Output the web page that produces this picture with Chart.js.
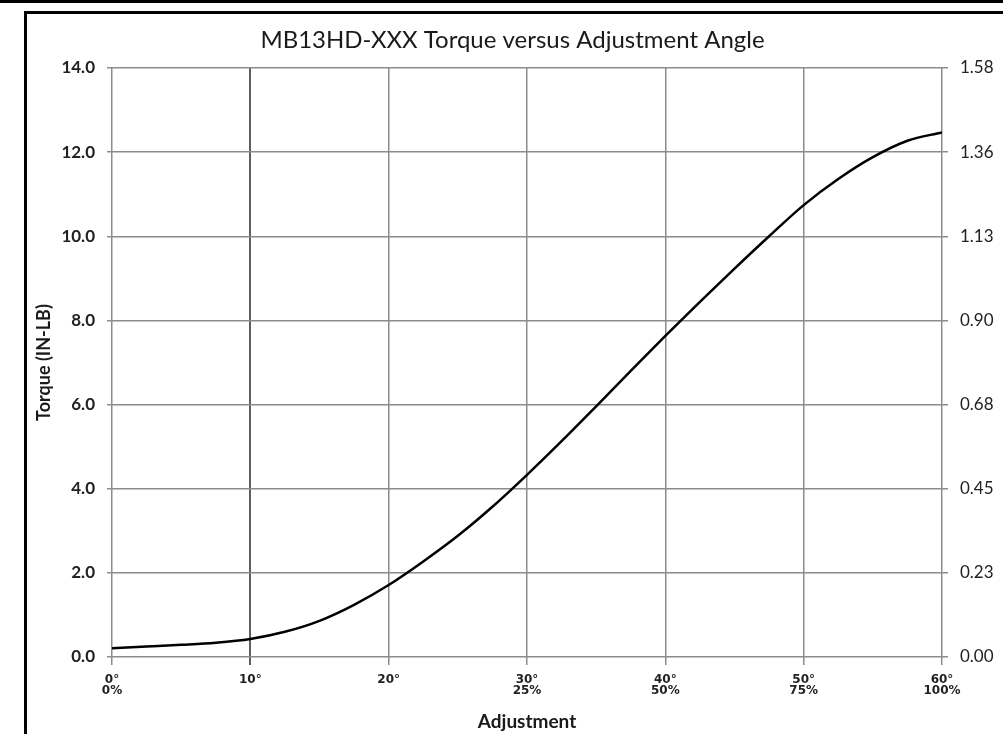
<!DOCTYPE html>
<html>
<head>
<meta charset="utf-8">
<script src="https://cdn.jsdelivr.net/npm/chart.js@4.4.0/dist/chart.umd.min.js"></script>
<style>
  html, body { margin: 0; padding: 0; background: #fff; }
</style>
</head>
<body>
<canvas id="chart" width="1003" height="734"></canvas>
<script>
// adjustment angle (degrees) and torque (in-lb)
const angles = [0, 2.5, 5, 7.5, 10, 12.5, 15, 17.5, 20, 22.5, 25, 27.5, 30,
  32.5, 35, 37.5, 40, 42.5, 45, 47.5, 50, 52.5, 55, 57.5, 60];
const torque = [0.21, 0.25, 0.29, 0.34, 0.43, 0.60, 0.86, 1.24, 1.71, 2.27, 2.88, 3.57, 4.33,
  5.13, 5.96, 6.80, 7.63, 8.44, 9.23, 10.00, 10.74, 11.36, 11.88, 12.27, 12.47];

const xTickLabels = [["0°", "0%"], ["10°"], ["20°"], ["30°", "25%"], ["40°", "50%"], ["50°", "75%"], ["60°", "100%"]];
const leftTickLabels = ["0.0", "2.0", "4.0", "6.0", "8.0", "10.0", "12.0", "14.0"];
const rightTickLabels = ["0.00", "0.23", "0.45", "0.68", "0.90", "1.13", "1.36", "1.58"];

const gridGray = "#8c8c8c";

// black frame round the picture
const framePlugin = {
  id: "frame",
  beforeDraw(chart) {
    const c = chart.ctx;
    c.save();
    c.fillStyle = "#fff";
    c.fillRect(0, 0, chart.width, chart.height);
    c.fillStyle = "#000";
    c.fillRect(0, 0, chart.width, 3);
    c.fillRect(24, 11, chart.width - 24, 3);
    c.fillRect(24, 11, 3, chart.height - 11);
    c.restore();
  }
};

new Chart(document.getElementById("chart"), {
  type: "line",
  data: {
    datasets: [{
      data: angles.map((a, i) => ({ x: a, y: torque[i] })),
      borderColor: "#000",
      borderWidth: 2.5,
      pointRadius: 0,
      cubicInterpolationMode: "monotone",
      fill: false
    }]
  },
  options: {
    responsive: false,
    animation: false,
    layout: { padding: { left: 30, right: 8, top: 20, bottom: 0 } },
    plugins: {
      legend: { display: false },
      tooltip: { enabled: false },
      title: {
        display: true,
        text: "MB13HD-XXX Torque versus Adjustment Angle",
        color: "#1a1a1a",
        font: { family: "Lato", size: 24, weight: "normal" },
        padding: { top: 5.6, bottom: 13.6 }
      }
    },
    scales: {
      x: {
        type: "linear",
        min: 0, max: 60,
        afterFit: (s) => { s.height = 77; },
        ticks: {
          stepSize: 10,
          autoSkip: false,
          maxRotation: 0,
          padding: 9,
          color: "#222",
          font: { family: "DejaVu Sans", size: 12, weight: "bold", lineHeight: 0.95 },
          callback: (v, i) => xTickLabels[i]
        },
        grid: {
          color: (ctx) => ctx.index === 1 ? "#5e5e5e" : gridGray,
          lineWidth: (ctx) => ctx.index === 1 ? 2 : 1.5,
          tickLength: 8
        },
        border: { display: false },
        title: {
          display: true,
          text: "Adjustment",
          color: "#1a1a1a",
          font: { family: "Lato", size: 19, weight: "bold" },
          padding: { top: 0, bottom: 0.6 }
        }
      },
      y: {
        position: "left",
        min: 0, max: 14,
        afterFit: (s) => { s.width = 82; },
        ticks: {
          stepSize: 2,
          padding: 12,
          color: "#222",
          font: { family: "Lato", size: 17, weight: "bold" },
          callback: (v, i) => leftTickLabels[i]
        },
        grid: { color: gridGray, lineWidth: 1.5, tickLength: 5 },
        border: { display: false },
        title: {
          display: true,
          text: "Torque (IN-LB)",
          color: "#1a1a1a",
          font: { family: "Lato", size: 18, weight: "bold" },
          padding: { top: 3.2, bottom: 0 }
        }
      },
      y2: {
        position: "right",
        min: 0, max: 14,
        afterFit: (s) => { s.width = 53; },
        ticks: {
          stepSize: 2,
          padding: 12,
          color: "#222",
          font: { family: "Lato", size: 17 },
          callback: (v, i) => rightTickLabels[i]
        },
        grid: { drawOnChartArea: false, color: gridGray, lineWidth: 1.5, tickLength: 6 },
        border: { display: false }
      }
    }
  },
  plugins: [framePlugin]
});
</script>
</body>
</html>
